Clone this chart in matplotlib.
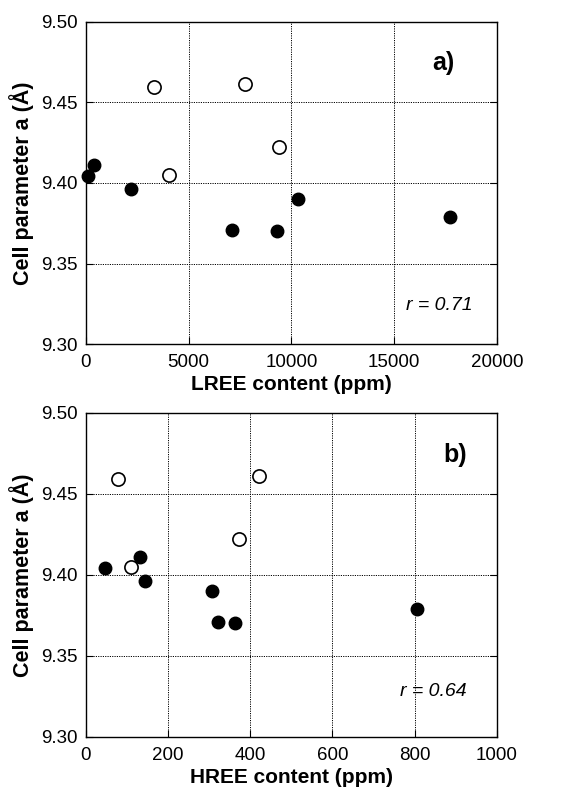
import matplotlib.pyplot as plt

plt.rcParams['font.family'] = ['Liberation Sans', 'DejaVu Sans']

# panel a: LREE content (ppm)
lree_filled = [110, 390, 2190, 7090, 9290, 10310, 17710]
a_filled = [9.404, 9.411, 9.396, 9.371, 9.370, 9.390, 9.379]
lree_open = [3330, 4040, 7760, 9380]
a_open_l = [9.4595, 9.405, 9.4615, 9.422]

# panel b: HREE content (ppm)
hree_filled = [46, 132, 144, 306, 322, 363, 805]
b_filled = [9.404, 9.411, 9.396, 9.390, 9.371, 9.3705, 9.379]
hree_open = [77, 109, 373, 420]
b_open = [9.459, 9.405, 9.422, 9.461]

fig = plt.figure(figsize=(5.73, 7.91), dpi=100)
ax1 = fig.add_axes([0.150, 0.565, 0.717, 0.4075])
ax2 = fig.add_axes([0.150, 0.0683, 0.717, 0.41])

panels = [
    (ax1, lree_filled, a_filled, lree_open, a_open_l, (0, 20000), [0, 5000, 10000, 15000, 20000],
     'LREE content (ppm)', 'a)', (0.87, 0.872), 'r = 0.71', (0.861, 0.12)),
    (ax2, hree_filled, b_filled, hree_open, b_open, (0, 1000), [0, 200, 400, 600, 800, 1000],
     'HREE content (ppm)', 'b)', (0.898, 0.87), 'r = 0.64', (0.845, 0.139)),
]

for ax, xf, yf, xo, yo, xlim, xticks, xlabel, tag, tagpos, rtxt, rpos in panels:
    ax.plot(xf, yf, 'o', color='black', markersize=9, zorder=3, clip_on=False)
    ax.plot(xo, yo, 'o', markerfacecolor='white', markeredgecolor='black',
            markeredgewidth=1.2, markersize=9.5, zorder=3, clip_on=False)
    ax.set_xlim(*xlim)
    ax.set_ylim(9.30, 9.50)
    ax.set_xticks(xticks)
    ax.set_yticks([9.30, 9.35, 9.40, 9.45, 9.50])
    ax.set_yticklabels(['9.30', '9.35', '9.40', '9.45', '9.50'])
    ax.grid(True, linestyle=(0, (1.2, 1.2)), color='black', linewidth=0.7)
    ax.tick_params(direction='in', length=5, right=True, top=False, labelsize=13.5)
    ax.tick_params(axis='x', pad=7)
    ax.tick_params(axis='y', pad=6)
    for s in ax.spines.values():
        s.set_linewidth(1.0)
    ax.set_xlabel(xlabel, fontsize=15, fontweight='bold', labelpad=3)
    ax.set_ylabel('Cell parameter a (Å)', fontsize=15.5, fontweight='bold', labelpad=5)
    ax.text(tagpos[0], tagpos[1], tag, transform=ax.transAxes, fontsize=18,
            fontweight='bold', ha='center', va='center')
    ax.text(rpos[0], rpos[1], rtxt, transform=ax.transAxes, fontsize=14,
            style='italic', ha='center', va='center')

fig.savefig('out.png', dpi=100)
